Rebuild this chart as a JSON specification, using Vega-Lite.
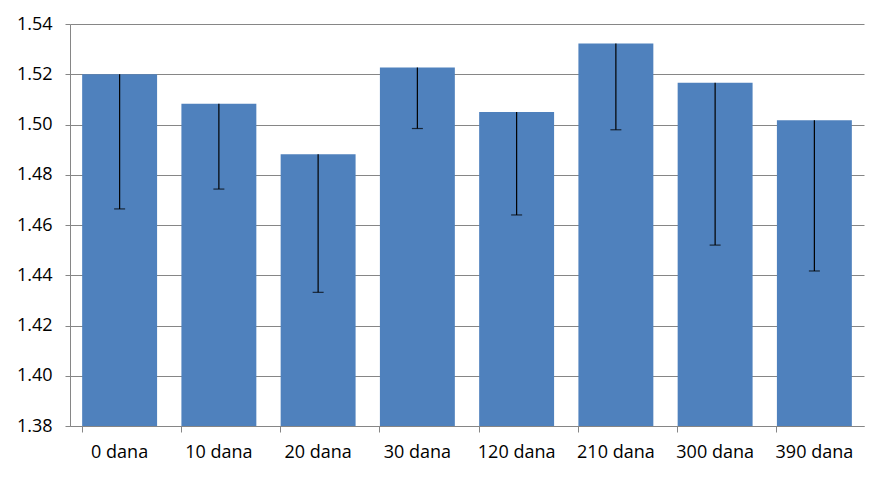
{
  "$schema": "https://vega.github.io/schema/vega-lite/v6.json",
  "width": 794,
  "height": 402,
  "autosize": "none",
  "padding": {"left": 70, "top": 24, "right": 24, "bottom": 53},
  "background": "white",
  "config": {
    "view": {"stroke": null},
    "font": "Open Sans",
    "axis": {"labelFont": "Open Sans", "labelFontSize": 18, "labelColor": "#000000", "domainColor": "#868686", "tickColor": "#868686", "gridColor": "#868686", "gridOpacity": 1, "domainWidth": 1, "tickWidth": 1, "gridWidth": 1}
  },
  "data": {
    "values": [
      {"day": "0 dana", "value": 1.5200, "low": 1.4664},
      {"day": "10 dana", "value": 1.5083, "low": 1.4743},
      {"day": "20 dana", "value": 1.4882, "low": 1.4332},
      {"day": "30 dana", "value": 1.5227, "low": 1.4984},
      {"day": "120 dana", "value": 1.5050, "low": 1.4640},
      {"day": "210 dana", "value": 1.5322, "low": 1.4979},
      {"day": "300 dana", "value": 1.5166, "low": 1.4520},
      {"day": "390 dana", "value": 1.5017, "low": 1.4417}
    ]
  },
  "encoding": {
    "x": {
      "field": "day",
      "type": "nominal",
      "sort": null,
      "title": null,
      "scale": {"paddingInner": 0.245, "paddingOuter": 0.1225},
      "axis": {"labelAngle": 0, "bandPosition": 0, "tickSize": 6, "labelPadding": 11}
    }
  },
  "layer": [
    {
      "mark": {"type": "bar", "color": "#4F81BD"},
      "encoding": {
        "y": {
          "field": "value",
          "type": "quantitative",
          "title": null,
          "scale": {"domain": [1.38, 1.54], "zero": false, "nice": false},
          "axis": {"values": [1.38, 1.40, 1.42, 1.44, 1.46, 1.48, 1.50, 1.52, 1.54], "format": ".2f", "grid": true, "tickSize": 5, "labelPadding": 13}
        },
        "y2": {"datum": 1.38}
      }
    },
    {
      "mark": {"type": "rule", "color": "#000000", "strokeWidth": 1.2},
      "encoding": {
        "y": {"field": "value", "type": "quantitative"},
        "y2": {"field": "low"}
      }
    },
    {
      "mark": {"type": "tick", "color": "#000000", "size": 11, "thickness": 1.2},
      "encoding": {
        "y": {"field": "low", "type": "quantitative"}
      }
    }
  ]
}
